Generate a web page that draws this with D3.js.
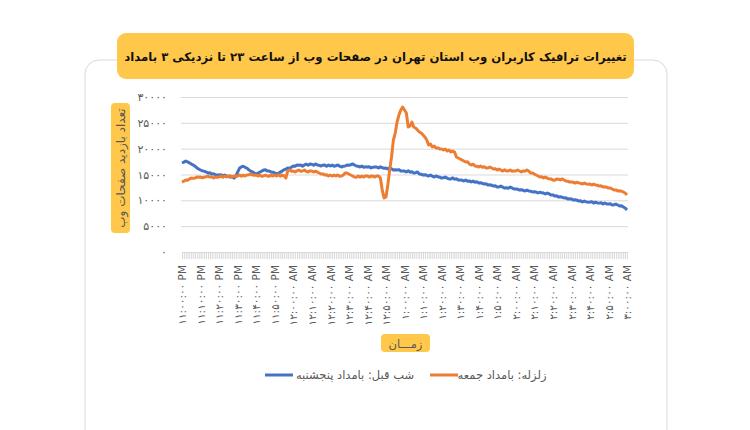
<!DOCTYPE html>
<html><head><meta charset="utf-8">
<script src="https://cdn.jsdelivr.net/npm/d3@7"></script>
<style>
html,body{margin:0;padding:0;background:#fff;}
svg{display:block;font-family:"DejaVu Sans","Noto Sans",sans-serif;}
</style></head>
<body><svg id="c" width="750" height="430"></svg>
<script>
const titleText = "تغییرات ترافیک کاربران وب استان تهران در صفحات وب از ساعت ۲۳ تا نزدیکی ۳ بامداد";
const yTitle = "تعداد بازدید صفحات وب";
const xTitle = "زمـــان";
const seriesNames = ["زلزله: بامداد جمعه", "شب قبل: بامداد پنجشنبه"];
const minutes = d3.range(241); // one category per minute, 23:00 → 03:00
const xTickLabels = ["۱۱:۰۰:۰۰ PM","۱۱:۱۰:۰۰ PM","۱۱:۲۰:۰۰ PM","۱۱:۳۰:۰۰ PM","۱۱:۴۰:۰۰ PM","۱۱:۵۰:۰۰ PM",
 "۱۲:۰۰:۰۰ AM","۱۲:۱۰:۰۰ AM","۱۲:۲۰:۰۰ AM","۱۲:۳۰:۰۰ AM","۱۲:۴۰:۰۰ AM","۱۲:۵۰:۰۰ AM",
 "۱:۰۰:۰۰ AM","۱:۱۰:۰۰ AM","۱:۲۰:۰۰ AM","۱:۳۰:۰۰ AM","۱:۴۰:۰۰ AM","۱:۵۰:۰۰ AM",
 "۲:۰۰:۰۰ AM","۲:۱۰:۰۰ AM","۲:۲۰:۰۰ AM","۲:۳۰:۰۰ AM","۲:۴۰:۰۰ AM","۲:۵۰:۰۰ AM","۳:۰۰:۰۰ AM"];
const yTicks = [0,5000,10000,15000,20000,25000,30000];
const yTickLabels = ["۰","۵۰۰۰","۱۰۰۰۰","۱۵۰۰۰","۲۰۰۰۰","۲۵۰۰۰","۳۰۰۰۰"];

const thursday = [
17220,17400,17610,17450,17250,17010,16850,16600,16280,16050,
15870,15700,15650,15480,15300,15350,15100,15150,14950,14880,
14900,14950,14700,14880,14720,14650,14500,14560,14300,14600,
15450,16200,16480,16600,16400,16250,15900,15650,15500,15300,
15100,15250,15480,15650,15850,15900,15700,15680,15500,15450,
15300,15100,15250,15450,15650,15900,16050,16250,16200,16420,
16640,16600,16850,16780,16820,16620,16850,17000,16800,17030,
16980,16800,17050,16850,16780,16650,16800,16850,16600,16830,
16640,16820,16600,16680,16850,16620,16450,16600,16650,16850,
16800,16870,17050,16850,16640,16600,16450,16620,16400,16480,
16450,16500,16280,16420,16470,16450,16250,16480,16300,16200,
16250,16080,16270,16100,15870,15900,15850,15950,15670,15700,
15670,15500,15720,15450,15520,15290,15350,15480,15100,15050,
14900,14950,14850,14700,14920,14680,14500,14720,14550,14480,
14320,14350,14500,14300,14130,14150,14350,14100,14180,13930,
13950,13900,13740,13950,13700,13760,13550,13720,13500,13580,
13350,13400,13300,13160,13200,12960,13000,12920,12770,12800,
12580,12600,12750,12550,12380,12420,12350,12560,12400,12190,
12200,12150,11990,12050,11950,11800,11980,11820,11780,11610,
11650,11600,11420,11580,11450,11400,11220,11420,11250,11030,
11050,10840,10880,10640,10700,10620,10450,10500,10260,10300,
10280,10060,10100,10020,9870,9900,9680,9850,9700,9650,
9680,9720,9480,9650,9500,9460,9520,9290,9480,9300,
9290,9320,9090,9150,9280,9100,8900,8950,8710,8510,
8130];

const friday = [
13550,13700,13930,13880,14130,14320,14250,14300,14510,14450,
14510,14350,14480,14550,14710,14500,14520,14320,14500,14480,
14510,14700,14480,14710,14520,14680,14750,14500,14710,14650,
14710,14900,14680,14880,14700,14900,14950,15090,14900,14850,
14900,14700,14880,14650,14720,14900,14710,14650,14880,14700,
14900,14710,14950,14680,14900,14750,14320,15670,15870,15650,
15670,15480,15700,15870,15650,15680,15850,15620,15480,15700,
15670,15480,15650,15450,15290,15090,15120,14900,14950,14710,
14900,14700,14880,14710,14920,14680,14700,14900,15290,15300,
15090,14900,14710,14510,14480,14700,14500,14680,14510,14720,
14710,14500,14700,14680,14510,14720,14700,14320,11990,10450,
10640,12960,15870,18380,21670,23030,25160,26510,27480,28060,
27480,26900,24190,24380,25160,24190,24000,23610,23220,23030,
22640,22250,21670,20700,20900,20320,20510,20120,20150,19930,
19930,19740,19950,19540,19750,19350,19540,19350,18380,18190,
18000,17800,17610,17420,17450,17030,16830,17000,16640,16600,
16450,16640,16420,16480,16250,16280,16450,16250,16060,16100,
15870,16050,15850,15670,15900,15670,15700,15870,15650,15700,
15670,15870,15680,15480,15700,15650,15870,15670,15290,15300,
15090,14900,14710,14510,14550,14320,14500,14300,14130,14150,
13930,13900,14130,14100,13950,14150,13930,13740,13700,13550,
13550,13500,13350,13520,13380,13300,13160,13350,13180,13100,
13160,12960,13120,12980,12920,12770,12800,12580,12620,12550,
12380,12400,12190,11990,12020,11800,11850,11780,11610,11420,
11030];

const BLUE = "#4472C4", ORANGE = "#ED7D31", GOLD = "#FFC84B", GRAY = "#595959", GRID = "#d9d9d9";
const svg = d3.select("#c");

// card
svg.append("rect").attr("x",85).attr("y",60).attr("width",582).attr("height",400)
  .attr("rx",14).attr("fill","#fff").attr("stroke",GRID).attr("stroke-width",1);

// title box
svg.append("rect").attr("x",117).attr("y",33).attr("width",517).attr("height",46)
  .attr("rx",9).attr("fill",GOLD);
const tt = svg.append("text").attr("x",375.5).attr("y",57).attr("text-anchor","middle")
  .attr("dominant-baseline","central").attr("direction","rtl")
  .attr("font-weight","bold").attr("font-size",16).attr("fill","#111").text(titleText);
let tw = tt.node().getComputedTextLength();
if (tw > 503) tt.attr("font-size", 16*503/tw);

const x = d3.scaleLinear().domain([0,240]).range([182,627]);
const y = d3.scaleLinear().domain([0,30000]).range([252,97]);

// gridlines + y labels
const yAxis = d3.axisLeft(y).tickValues(yTicks).tickSize(-(628-181))
  .tickFormat((d,i)=>yTickLabels[i]).tickPadding(14);
const gy = svg.append("g").attr("transform","translate(181,0)").call(yAxis);
gy.select(".domain").remove();
gy.selectAll(".tick line").attr("stroke",GRID).attr("stroke-width",1)
  .filter(d=>d===0).remove();
gy.selectAll(".tick text").attr("fill",GRAY).attr("font-size",11).attr("font-family","DejaVu Sans, sans-serif");

// x axis: minor ticks every minute
const gMinor = svg.append("g").attr("transform","translate(0,252)")
  .call(d3.axisBottom(x).tickValues(minutes).tickSize(7).tickFormat(""));
gMinor.select(".domain").attr("stroke",GRID);
gMinor.selectAll(".tick line").attr("stroke",GRID);

const gx = svg.append("g").attr("transform","translate(0,252)")
  .call(d3.axisBottom(x).tickValues(d3.range(0,241,10)).tickSize(0).tickFormat((d,i)=>xTickLabels[i]));
gx.select(".domain").remove();
gx.selectAll(".tick text").attr("transform","rotate(-90)")
  .attr("x",-13).attr("y",0).attr("dy","0.35em").attr("text-anchor","end")
  .attr("direction","ltr")
  .attr("fill",GRAY).attr("font-size",10.5).attr("font-family","DejaVu Sans, sans-serif");

// lines
const line = d3.line().x((d,i)=>x(minutes[i])).y(d=>y(d));
svg.append("path").datum(thursday).attr("d",line).attr("fill","none")
  .attr("stroke",BLUE).attr("stroke-width",3).attr("stroke-linejoin","round");
svg.append("path").datum(friday).attr("d",line).attr("fill","none")
  .attr("stroke",ORANGE).attr("stroke-width",3).attr("stroke-linejoin","round");

// y title
svg.append("rect").attr("x",111).attr("y",103).attr("width",19).attr("height",130)
  .attr("rx",4).attr("fill",GOLD);
svg.append("text").attr("transform","translate(120.5,168) rotate(-90)")
  .attr("text-anchor","middle").attr("dominant-baseline","central").attr("direction","rtl")
  .attr("font-size",12).attr("fill",GRAY).text(yTitle);

// x title
svg.append("rect").attr("x",381).attr("y",334).attr("width",49).attr("height",18)
  .attr("rx",4).attr("fill",GOLD);
svg.append("text").attr("x",405.5).attr("y",343.5).attr("text-anchor","middle")
  .attr("dominant-baseline","central").attr("direction","rtl")
  .attr("font-size",11.5).attr("fill",GRAY).text(xTitle);

// legend
const legend = [
  {name: seriesNames[0], color: ORANGE, lx1: 430, lx2: 458, tx: 502},
  {name: seriesNames[1], color: BLUE, lx1: 265, lx2: 293, tx: 355}
];
legend.forEach(l=>{
  svg.append("line").attr("x1",l.lx1).attr("x2",l.lx2).attr("y1",375).attr("y2",375)
    .attr("stroke",l.color).attr("stroke-width",3);
  svg.append("text").attr("x",l.tx).attr("y",374.5).attr("text-anchor","middle")
    .attr("dominant-baseline","central").attr("direction","rtl")
    .attr("font-size",11.5).attr("fill",GRAY).text(l.name);
});
</script></body></html>
